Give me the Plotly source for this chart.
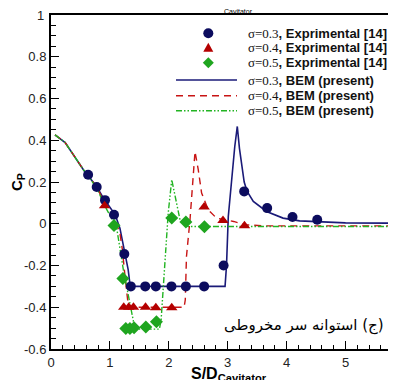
import plotly.graph_objects as go

# ---------------- data ----------------
exp03_x = [0.63, 0.776, 0.917, 1.07, 1.245, 1.355, 1.60, 1.78, 2.045, 2.29, 2.60, 2.93, 3.28, 3.67, 4.10, 4.52]
exp03_y = [0.235, 0.176, 0.113, 0.043, -0.145, -0.30, -0.30, -0.30, -0.30, -0.30, -0.30, -0.20, 0.155, 0.075, 0.032, 0.019]

exp04_x = [0.91, 1.235, 1.32, 1.40, 1.605, 1.78, 2.05, 2.60, 2.92, 3.285]
exp04_y = [0.086, -0.40, -0.40, -0.40, -0.40, -0.402, -0.402, 0.08, 0.015, -0.009]

exp05_x = [1.07, 1.22, 1.27, 1.34, 1.41, 1.61, 1.79, 2.05, 2.29, 2.605]
exp05_y = [-0.008, -0.262, -0.502, -0.502, -0.498, -0.495, -0.469, 0.027, 0.008, -0.014]

bem03_x = [0.068, 0.24, 0.55, 0.63, 0.78, 0.89, 1.00, 1.09, 1.17, 1.256, 1.31, 1.345, 1.60, 2.00, 2.50, 2.955,
           2.98, 3.01, 3.12, 3.163, 3.20, 3.24, 3.28, 3.33, 3.435, 3.66, 3.94, 4.22, 4.60, 5.00, 5.90]
bem03_y = [0.426, 0.389, 0.259, 0.232, 0.176, 0.123, 0.08, 0.043, -0.021, -0.14, -0.22, -0.30, -0.30, -0.30, -0.30, -0.30,
           -0.20, 0.035, 0.37, 0.466, 0.36, 0.27, 0.20, 0.155, 0.107, 0.059, 0.027, 0.014, 0.008, 0.004, 0.003]

bem04_x = [0.068, 0.24, 0.55, 0.78, 0.905, 1.07, 1.17, 1.21, 1.256, 1.30, 1.315, 1.60, 2.00, 2.22, 2.26,
           2.28, 2.30, 2.36, 2.40, 2.445, 2.50, 2.557, 2.67, 2.81, 3.10, 3.30, 3.60, 5.90]
bem04_y = [0.426, 0.389, 0.259, 0.176, 0.10, 0.03, -0.045, -0.12, -0.25, -0.348, -0.40, -0.40, -0.40, -0.40, -0.40,
           -0.364, -0.157, 0.019, 0.195, 0.346, 0.259, 0.147, 0.067, 0.027, 0.011, -0.005, -0.01, -0.01]

bem05_x = [0.068, 0.24, 0.55, 0.78, 0.905, 1.00, 1.115, 1.228, 1.29, 1.34, 1.40, 1.46, 1.84, 1.87,
           1.935, 1.99, 2.05, 2.105, 2.19, 2.33, 2.60, 5.90]
bem05_y = [0.426, 0.389, 0.259, 0.170, 0.09, 0.04, -0.02, -0.22, -0.31, -0.396, -0.468, -0.505, -0.505, -0.46,
           -0.157, 0.051, 0.211, 0.131, 0.019, -0.013, -0.013, -0.013]

x_ticks = [0, 1, 2, 3, 4, 5]
x_tick_labels = ["0", "1", "2", "3", "4", "5"]
y_ticks = [-0.6, -0.4, -0.2, 0, 0.2, 0.4, 0.6, 0.8, 1]
y_tick_labels = ["-0.6", "-0.4", "-0.2", "0", "0.2", "0.4", "0.6", "0.8", "1"]

legend_sigma = ["σ=0.3", "σ=0.4", "σ=0.5", "σ=0.3", "σ=0.4", "σ=0.5"]
legend_desc = [", Exprimental [14]", ", Exprimental [14]", ", Exprimental [14]",
               ", BEM (present)", ", BEM (present)", ", BEM (present)"]

caption = "(ج) استوانه سر مخروطی"

# ---------------- styles ----------------
NAVY = "#0c0c5e"
NAVY_LINE = "#1a1a78"
RED = "#b40000"
RED_LINE = "#c81414"
GREEN = "#1fa51f"
GREEN_LINE = "#22b422"
DASH_DDOT = "6px,2px,1.5px,2px,1.5px,2px"
TICKFONT = dict(family="Liberation Sans, Arial", size=13, color="#222222")

OFF = 8  # page body margin
W, H = 396 - OFF, 380 - OFF
L, R, T, B = 51 - OFF, 0, 15 - OFF, 31
PW, PH = W - L - R, H - T - B
XMAX = PW / 58.9
YMIN, YMAX = -0.6, 1.0


def px(xp):
    # page pixel -> paper
    return (xp - OFF - L) / PW


def py(yp):
    return (H - B - (yp - OFF)) / PH


fig = go.Figure()
fig.add_trace(go.Scatter(x=bem03_x, y=bem03_y, mode="lines",
                         line=dict(color=NAVY_LINE, width=1.6), showlegend=False))
fig.add_trace(go.Scatter(x=bem04_x, y=bem04_y, mode="lines",
                         line=dict(color=RED_LINE, width=1.4, dash="7px,5px"), showlegend=False))
fig.add_trace(go.Scatter(x=bem05_x, y=bem05_y, mode="lines",
                         line=dict(color=GREEN_LINE, width=1.4, dash=DASH_DDOT), showlegend=False))
fig.add_trace(go.Scatter(x=exp03_x, y=exp03_y, mode="markers",
                         marker=dict(symbol="circle", size=10, color=NAVY), showlegend=False))
fig.add_trace(go.Scatter(x=exp04_x, y=exp04_y, mode="markers",
                         marker=dict(symbol="triangle-up", size=10, color=RED), showlegend=False))
fig.add_trace(go.Scatter(x=exp05_x, y=exp05_y, mode="markers",
                         marker=dict(symbol="diamond", size=10, color=GREEN), showlegend=False))

# ---------------- manual legend ----------------
rows_y = [33.3, 47.7, 62.7, 80, 95.7, 110.7]
mark_x = 208.3
shapes = []
shapes.append(dict(type="circle", xref="paper", yref="paper", xsizemode="pixel", ysizemode="pixel",
                   xanchor=px(mark_x), yanchor=py(rows_y[0]), x0=-5, x1=5, y0=-5, y1=5,
                   fillcolor=NAVY, line=dict(width=0)))
shapes.append(dict(type="path", xref="paper", yref="paper", xsizemode="pixel", ysizemode="pixel",
                   xanchor=px(mark_x), yanchor=py(rows_y[1]), path="M-5,-4 L5,-4 L0,5 Z",
                   fillcolor=RED, line=dict(width=0)))
shapes.append(dict(type="path", xref="paper", yref="paper", xsizemode="pixel", ysizemode="pixel",
                   xanchor=px(mark_x), yanchor=py(rows_y[2]), path="M-5.5,0 L0,5.5 L5.5,0 L0,-5.5 Z",
                   fillcolor=GREEN, line=dict(width=0)))
line_styles = [dict(color=NAVY_LINE, width=1.6),
               dict(color=RED_LINE, width=1.4, dash="7px,5px"),
               dict(color=GREEN_LINE, width=1.4, dash=DASH_DDOT)]
for i, st in enumerate(line_styles):
    yy = py(rows_y[3 + i])
    shapes.append(dict(type="line", xref="paper", yref="paper", x0=px(176), x1=px(237),
                       y0=yy, y1=yy, line=st))

annotations = []
for i in range(6):
    annotations.append(dict(
        xref="paper", yref="paper", x=px(246), y=py(rows_y[i]), xanchor="left", yanchor="middle",
        showarrow=False,
        text='<span style="font-family:Liberation Serif">%s</span><b>%s</b>' % (legend_sigma[i], legend_desc[i]),
        font=dict(family="Liberation Sans, Arial", size=13, color="#111111")))

# Persian caption (RLM marks force right-to-left ordering)
annotations.append(dict(xref="paper", yref="paper", x=px(386), y=py(325), xanchor="right", yanchor="middle",
                        showarrow=False, text="\u200f" + caption + "\u200f",
                        font=dict(family="DejaVu Sans", size=15, color="#000000")))
# axis titles
annotations.append(dict(xref="paper", yref="paper", x=px(229), y=py(363), xanchor="center", yanchor="top",
                        showarrow=False, text="<b>S/D<sub>Cavitator</sub></b>",
                        font=dict(family="Liberation Sans, Arial", size=16, color="#000000")))
annotations.append(dict(xref="paper", yref="paper", x=px(17), y=py(182), xanchor="center", yanchor="middle",
                        showarrow=False, textangle=-90, text="<b>C<sub>P</sub></b>",
                        font=dict(family="Liberation Sans, Arial", size=15, color="#000000")))
# top y tick label (drawn at the axis top, where the automatic label would be clipped)
annotations.append(dict(xref="paper", yref="y", x=0, y=YMAX, xanchor="right", yanchor="middle",
                        xshift=-5, showarrow=False, text=y_tick_labels[-1], font=TICKFONT))
# cropped remnant at the top
annotations.append(dict(xref="paper", yref="paper", x=px(238), y=py(11.5), xanchor="center", yanchor="middle",
                        showarrow=False, text="Cavitator",
                        font=dict(family="Liberation Sans, Arial", size=7, color="#000000")))

axis_ticktext_y = y_tick_labels[:-1] + [""]

fig.update_layout(
    width=W, height=H,
    margin=dict(l=L, r=R, t=T, b=B),
    paper_bgcolor="white", plot_bgcolor="white",
    shapes=shapes, annotations=annotations,
    xaxis=dict(range=[0, XMAX], tickvals=x_ticks, ticktext=x_tick_labels,
               ticks="inside", ticklen=8, tickwidth=1.3, tickcolor="black",
               minor=dict(dtick=0.2, tick0=0, ticks="inside", ticklen=4, tickcolor="black", tickwidth=1),
               showline=True, linecolor="black", linewidth=2, mirror=True,
               showgrid=False, zeroline=False, tickfont=TICKFONT),
    yaxis=dict(range=[YMIN, YMAX], tickvals=y_ticks, ticktext=axis_ticktext_y,
               ticks="inside", ticklen=8, tickwidth=1.3, tickcolor="black",
               minor=dict(dtick=0.05, tick0=0, ticks="inside", ticklen=5, tickcolor="black", tickwidth=1),
               showline=True, linecolor="black", linewidth=2, mirror=False,
               showgrid=False, zeroline=False, tickfont=TICKFONT),
)

fig.write_html("out.html")
